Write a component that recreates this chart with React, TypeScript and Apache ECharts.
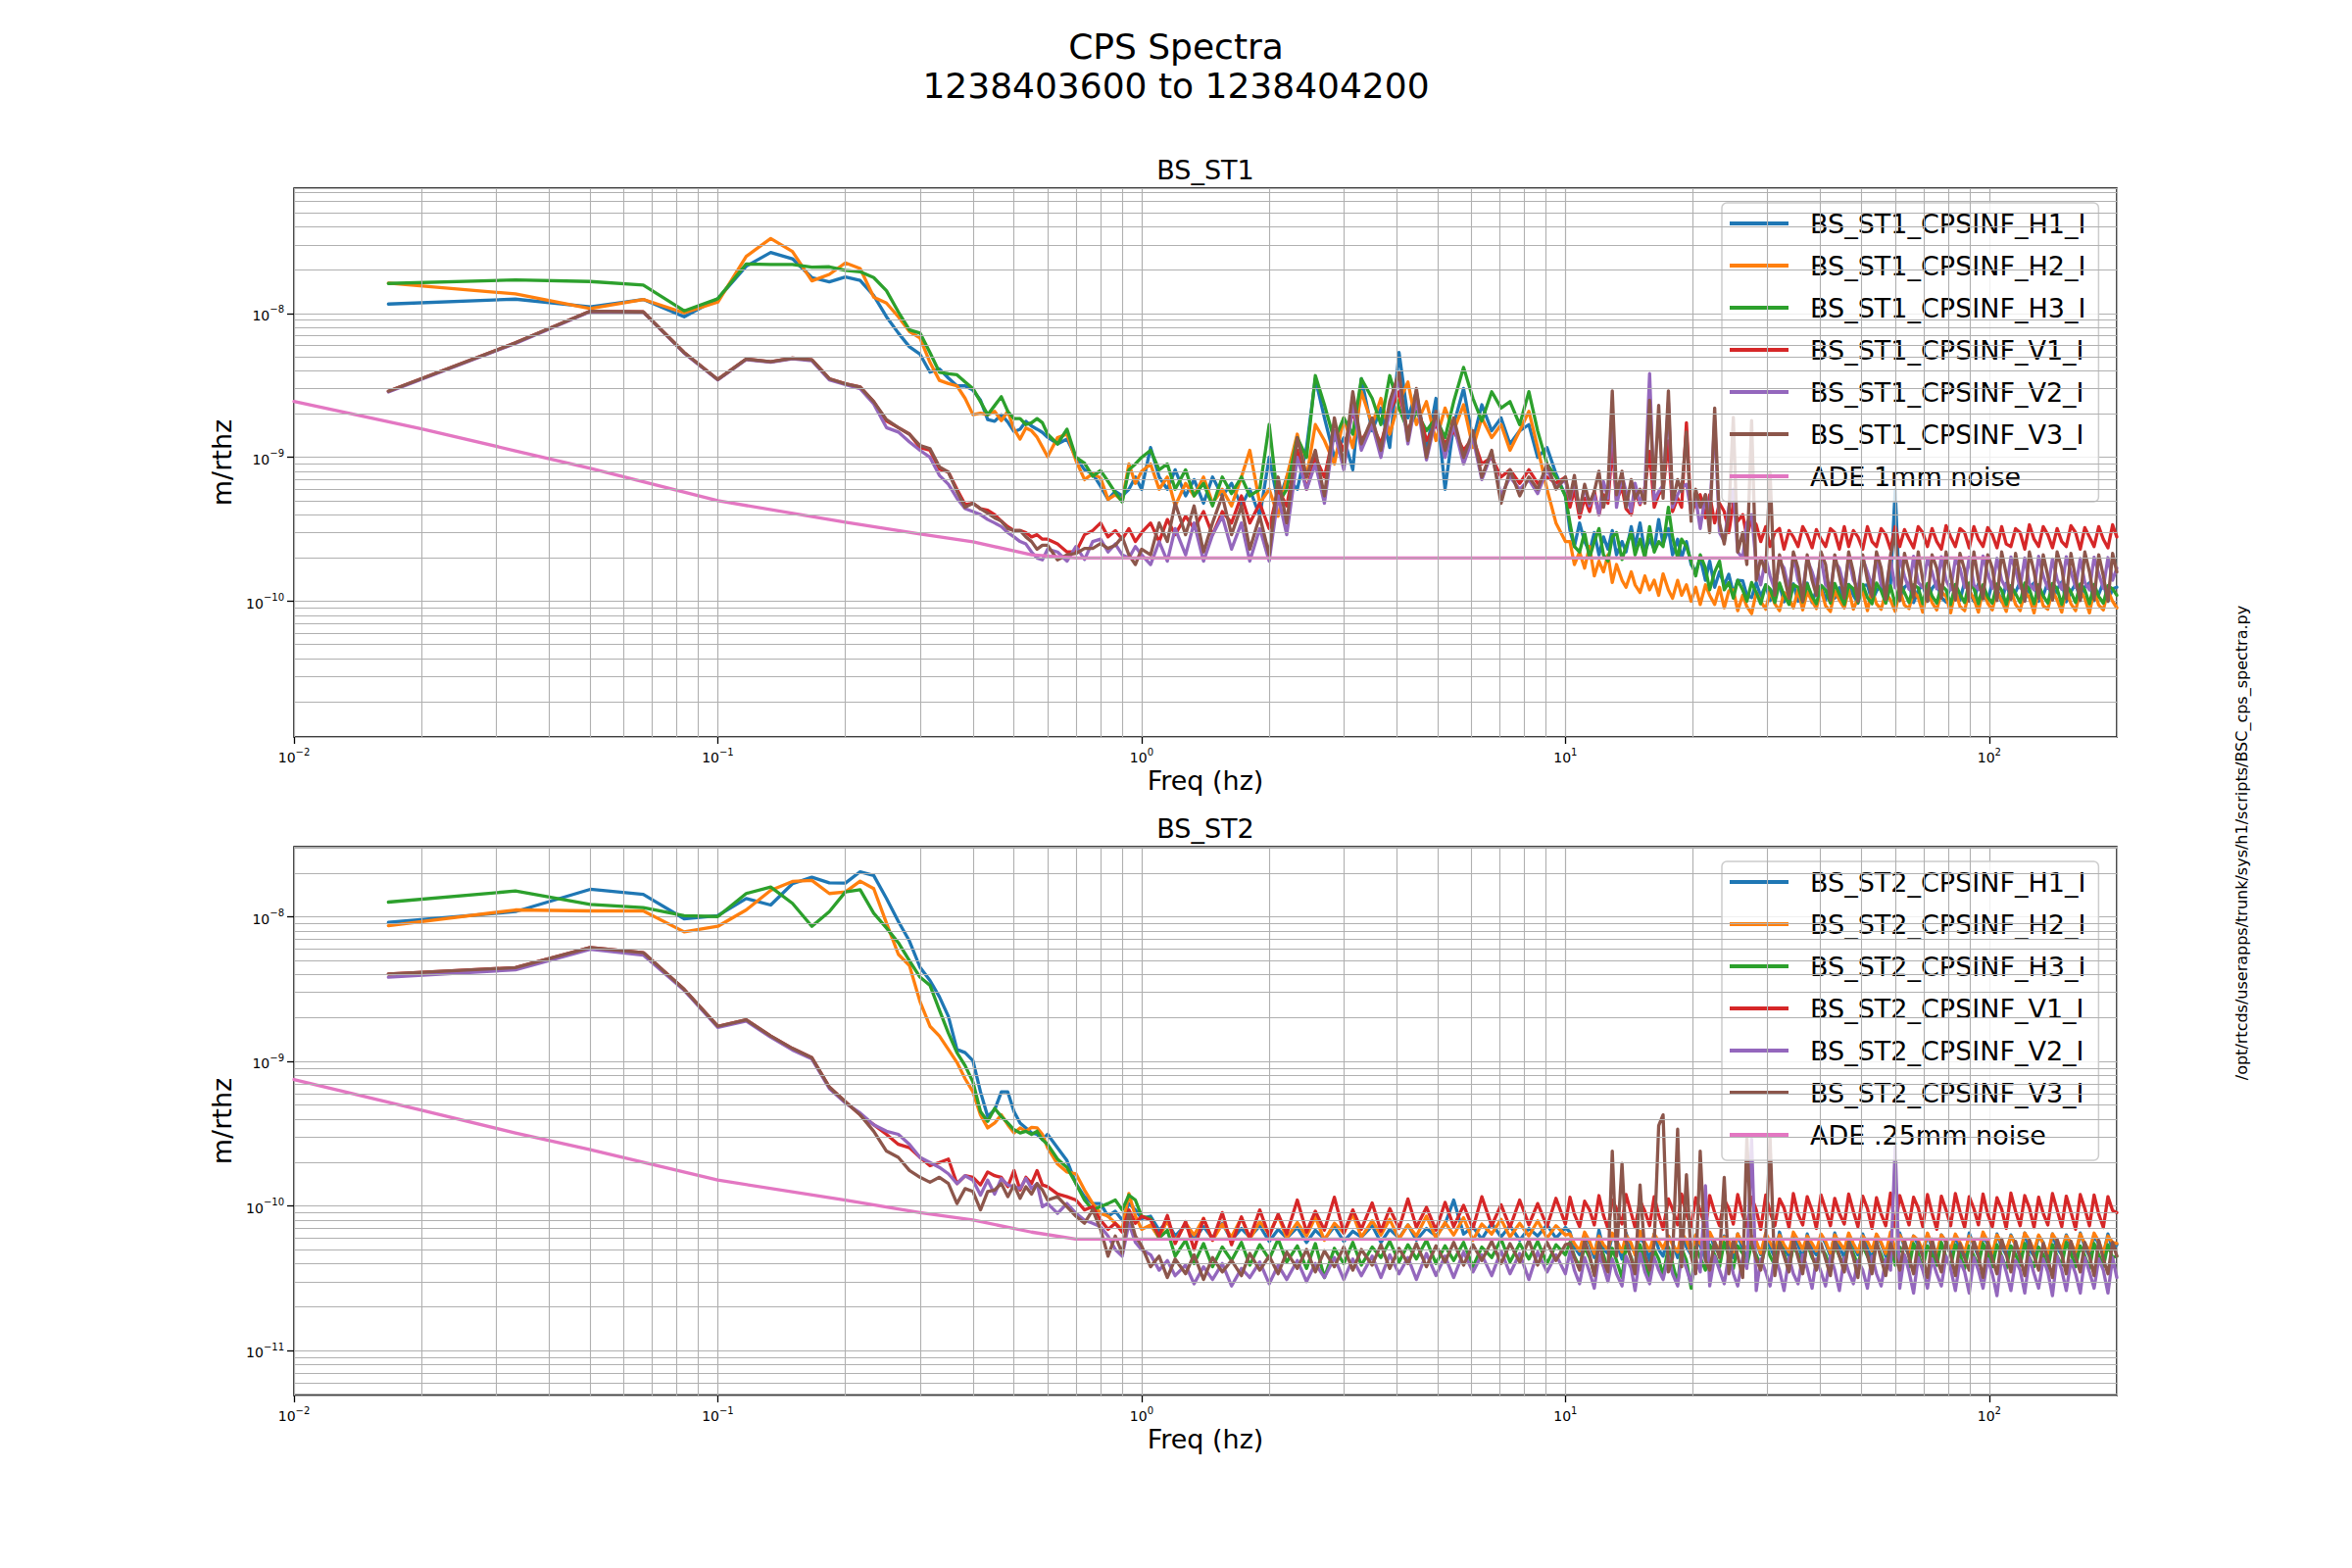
import React, { useEffect, useRef } from "react";
import * as echarts from "echarts";

// Amplitudes are stored in units of 1e-11 m/rtHz (UNIT_EXP); the axis labels show the real powers of ten.
const UNIT_EXP = -11;

const FREQ = [
  0.0167, 0.0333, 0.05, 0.0667, 0.0833, 0.1, 0.1167, 0.1333, 0.15, 0.1667, 0.1833, 0.2, 0.2167, 0.2333, 0.25, 0.2667, 0.2833, 0.3,
  0.3167, 0.3333, 0.35, 0.3667, 0.3833, 0.4, 0.4167, 0.4333, 0.45, 0.4667, 0.4833, 0.5, 0.5167, 0.5333, 0.55, 0.5667, 0.5833, 0.6,
  0.6333, 0.6667, 0.7, 0.7333, 0.7667, 0.8, 0.8333, 0.8667, 0.9, 0.9333, 0.9667, 1.0,
  1.05, 1.1, 1.15, 1.2, 1.27, 1.33, 1.4, 1.47, 1.55, 1.63, 1.72, 1.8, 1.9, 2.0, 2.1, 2.2, 2.33, 2.45, 2.57, 2.7, 2.85, 3.0, 3.15,
  3.3, 3.5, 3.67, 3.85, 4.05, 4.25, 4.45, 4.7, 4.95, 5.2, 5.45, 5.75, 6.05, 6.35, 6.7, 7.05, 7.4, 7.8, 8.2, 8.6, 9.05, 9.5, 10.0,
  10.25, 10.5, 10.8, 11.1, 11.4, 11.7, 12.0, 12.3, 12.6, 12.9, 13.2, 13.6, 13.9, 14.3, 14.6, 15.0, 15.4, 15.8, 16.2, 16.6,
  17.0, 17.5, 17.9, 18.4, 18.8, 19.3, 19.8, 20.3, 20.8, 21.4, 21.9, 22.5, 23.1, 23.7, 24.3, 24.9, 25.5, 26.2, 26.8, 27.5,
  28.2, 28.9, 29.7, 30.4, 31.2, 32.0, 32.8, 33.7, 34.5, 35.4, 36.3, 37.2, 38.2, 39.1, 40.1, 41.1, 42.2, 43.2, 44.3, 45.5,
  46.6, 47.8, 49.0, 50.3, 51.6, 52.9, 54.2, 55.6, 57.0, 58.5, 60.0, 61.5, 63.1, 64.7, 66.3, 68.0, 69.7, 71.5, 73.3, 75.2,
  77.1, 79.1, 81.1, 83.2, 85.3, 87.5, 89.7, 92.0, 94.3, 96.7, 99.2, 101.7, 104.3, 107.0, 109.7, 112.5, 115.4, 118.3, 121.3, 124.4,
  127.6, 130.8, 134.1, 137.5, 141.0, 144.6, 148.3, 152.0, 155.9, 159.9, 164.0, 168.1, 172.4, 176.8, 181.3, 185.9, 190.6, 195.5, 200,
];

// ---------- BS_ST1 ----------
const ST1_H1 = [
  1163, 1258, 1110, 1252, 949, 1265, 2130, 2655, 2400, 1776, 1660, 1795, 1700, 1330, 949, 731, 587, 521, 391, 412, 356, 314, 314, 293, 250, 183, 178, 198, 176, 151, 157, 178, 165, 157, 149, 138,
  124, 134, 100, 82, 77, 63, 51, 58, 54, 60, 73, 60,
  117, 73, 60, 82, 54, 70, 48, 73, 54, 66, 46, 60, 39, 100, 48, 73, 60, 117, 352, 188, 100, 137, 82, 352, 153, 220, 117, 535, 188, 286, 112, 257, 60, 169, 301, 131, 232, 153, 188, 124, 153, 169, 100, 117, 77, 54,
  31, 24, 35, 26, 22, 30, 21, 28, 23, 31, 21, 26, 22, 33, 24, 35, 22, 27, 23, 37, 25, 32, 21, 27, 20, 26, 18, 16, 20, 14,
  19, 12.5, 16, 13, 15.4, 11.3, 14, 13.9, 11, 10.6, 13.5, 10.8, 13, 10.1, 12.6, 13, 9.9, 12.2, 13.2, 10, 11.5, 13.4, 9.8, 12, 12.8, 10.2, 13.3, 10.5, 12.4, 9.9,
  13.1, 11, 9.7, 12.9, 13, 10, 11.8, 12.9, 10.4, 13.2, 60,
  10.1, 12.5, 13.3, 9.8, 11.9, 13, 10, 12.3, 13.4, 10.6, 9.9, 13.1, 11.4, 10.2, 13.6, 12, 10, 13.2, 10.8, 10.1, 13.5, 12.2, 9.9, 13.3,
  10.5, 11.6, 13.6, 10.2, 12.4, 13.4, 10, 11, 13.5, 10.3, 12.1, 13.6, 9.9, 11.7, 13.2, 10.4, 12.6, 13.4, 10.1, 11.2, 13.5, 10, 12.2, 12.5,
];
const ST1_H2 = [
  1625, 1368, 1081, 1252, 1010, 1200, 2494, 3323, 2698, 1685, 1870, 2247, 2055, 1298, 1182, 949, 750, 676, 457, 343, 326, 314, 257, 198, 203, 198, 209, 180, 209, 157, 134, 160, 153, 138, 118, 101,
  137, 145, 95, 70, 77, 72, 51, 55, 50, 90, 66, 80,
  90, 60, 73, 46, 66, 54, 73, 48, 60, 46, 73, 112, 48, 60, 39, 73, 145, 73, 169, 131, 90, 188, 117, 286, 169, 257, 145, 244, 334, 169, 244, 131, 220, 153, 232, 117, 188, 137, 169, 112, 153, 209, 117, 60, 35, 26,
  26, 18, 22, 17, 24, 15, 19, 16, 21, 13.5, 18, 14, 12.5, 16, 13, 11.5, 15, 12, 14, 11, 15.5, 12, 10.5, 14, 11, 13, 10, 12.5, 9.5, 13,
  11, 9.5, 12.5, 9, 11.8, 12, 8.6, 11, 9.2, 8.2, 11.5, 10, 8.8, 11.8, 9.6, 8.6, 11.5, 10.4, 9, 12, 8.7, 11.6, 10, 8.9, 12.2, 9.3, 8.5, 11.8, 10.2, 9,
  12, 8.8, 10.5, 11.7, 8.6, 12.1, 9.6, 8.8, 11.5, 10.2, 8.5,
  12, 9.4, 8.9, 11.8, 10.6, 8.4, 12.2, 9.8, 8.7, 11.6, 10.8, 8.3, 12, 9.2, 8.6, 11.9, 10.4, 8.4, 12.3, 9.7, 8.7, 11.8, 10.1, 8.5,
  12, 9.5, 8.6, 11.7, 10.6, 8.3, 12.1, 9.3, 8.8, 11.9, 10.2, 8.4, 12.2, 9.6, 8.6, 11.8, 10.5, 8.3, 12, 9.4, 8.7, 11.9, 10, 9,
];
const ST1_H3 = [
  1617, 1711, 1668, 1575, 1043, 1265, 2210, 2188, 2188, 2100, 2110, 1991, 1950, 1776, 1441, 1026, 770, 731, 535, 391, 381, 375, 334, 301, 244, 198, 229, 264, 209, 186, 186, 169, 174, 186, 174, 145,
  124, 157, 100, 91, 74, 81, 68, 57, 49, 82, 90, 100,
  112, 82, 90, 60, 82, 54, 66, 46, 73, 56, 73, 54, 60, 169, 48, 60, 137, 100, 370, 232, 131, 188, 145, 352, 257, 169, 370, 220, 153, 209, 153, 188, 137, 244, 422, 257, 179, 286, 220, 244, 169, 286, 153, 90, 73, 54,
  35, 24, 22, 30, 20, 26, 32, 21, 19, 28, 30, 19.5, 24, 30, 21, 27, 20, 33, 22, 26, 24, 45, 28, 20, 27, 24, 19, 15, 21, 17,
  12, 16, 19, 12, 13.5, 10.5, 14, 12, 10, 13.5, 11.5, 9.6, 13, 12.2, 9.8, 13.4, 11, 9.5, 13, 12.5, 9.9, 13.2, 10.8, 9.6, 12.9, 12, 9.7, 13.3, 11.2, 9.5,
  13, 12.2, 9.8, 13.1, 10.6, 9.6, 13.4, 11.8, 9.7, 12.8, 9.5,
  13.2, 11.5, 9.8, 13, 12.4, 9.6, 13.3, 10.9, 9.7, 12.9, 12, 9.5, 13.1, 11.2, 9.8, 13.4, 12.3, 9.6, 13, 10.7, 9.7, 13.2, 11.9, 9.5,
  12.8, 11.3, 9.8, 13.4, 12.1, 9.6, 13, 10.9, 9.7, 13.3, 12.2, 9.5, 12.9, 11.6, 9.8, 13.2, 12, 9.6, 13.1, 10.8, 9.7, 12.8, 12.2, 11,
];
const ST1_V1 = [
  288, 625, 1037, 1026, 535, 348, 482, 462, 489, 476, 352, 325, 309, 244, 179, 161, 145, 117, 112, 83, 79, 60, 47, 48, 44, 43, 40, 36, 33, 31, 31, 30, 28, 29, 27, 27,
  25, 22, 22, 29, 31, 35, 28, 31, 27, 32, 26, 30,
  35, 26, 37, 29, 39, 32, 42, 29, 42, 35, 54, 35, 48, 32, 60, 46, 112, 60, 100, 73, 153, 112, 209, 131, 169, 124, 209, 286, 145, 244, 131, 169, 124, 153, 112, 137, 90, 100, 73, 82, 66, 82, 66, 73, 66, 73,
  45, 60, 38, 52, 42, 58, 40, 55, 48, 120, 50, 62, 44, 40, 57, 47, 62, 110, 45, 55, 60, 130, 42, 52, 45, 174, 40, 50, 55, 38,
  55, 35, 48, 42, 30, 48, 36, 40, 28, 38, 34, 26, 33, 24, 30, 32, 23, 31, 28, 24, 33, 29, 23.5, 31.5, 27, 24, 32, 30, 23, 33,
  24, 31, 28, 23, 33, 26, 24, 32, 29, 23, 33,
  24, 31.5, 27, 23.5, 33, 30, 24, 32, 26, 23, 33.5, 28, 24, 32, 30, 23.5, 33, 27, 24, 32.5, 29, 23.5, 33, 25,
  24, 32, 30, 23, 34, 27, 24, 33, 29, 23.5, 32, 26, 24, 33.5, 30, 23, 32.5, 28, 24, 33, 27, 23.5, 34, 28,
];
const ST1_V2 = [
  285, 620, 1030, 1020, 530, 345, 478, 458, 485, 470, 345, 320, 300, 235, 161, 150, 128, 112, 100, 75, 65, 52, 44, 42, 40, 37, 35, 33, 30, 28, 26, 25, 22, 20, 19.4, 23,
  22, 19, 24, 19.5, 26, 27, 22, 25, 21, 20, 24, 21,
  18, 26, 19, 32, 21, 35, 19, 29, 39, 23, 35, 19, 32, 19, 54, 29, 100, 60, 90, 48, 153, 82, 232, 112, 169, 100, 209, 352, 124, 257, 96, 188, 100, 169, 90, 137, 70, 107, 54, 73, 60, 70, 56, 82, 62, 70,
  50, 70, 42, 62, 46, 55, 40, 68, 52, 200, 45, 75, 58, 42, 66, 48, 60, 382, 50, 58, 64, 240, 45, 55, 62, 65, 42, 52, 32, 55,
  40, 180, 30, 26, 45, 60, 22, 20, 35, 40, 18, 13, 20, 15, 12, 19, 17, 12, 20.5, 14, 12, 19.5, 16, 12.8, 20, 13, 12, 19, 17, 12.5,
  20, 14, 12.2, 19.8, 16, 12.6, 20.5, 13, 12, 19.5, 12.4,
  20, 15, 12.1, 20.5, 13.5, 12.5, 19.8, 16, 12.2, 20.4, 14, 12, 19.6, 17, 12.5, 20.2, 13, 12.1, 20.6, 15.5, 12.3, 19.9, 14, 12.2,
  20.3, 16.5, 12.4, 20, 13.2, 12, 20.5, 15, 12.3, 19.7, 14.2, 12.1, 20.4, 16, 12.5, 19.8, 13.5, 12, 20.2, 15.5, 12.3, 20.1, 14, 17,
];
const ST1_V3 = [
  288, 625, 1037, 1026, 535, 348, 482, 462, 489, 476, 352, 325, 309, 244, 183, 161, 145, 121, 115, 86, 79, 58, 45, 48, 44, 41, 38, 36, 32, 31, 31, 28, 26, 23, 24.5, 24.5,
  19.4, 21, 21.5, 23.3, 23.3, 25.2, 23.3, 24.5, 28, 21, 18, 23,
  21, 35, 26, 48, 29, 46, 22, 35, 54, 29, 46, 23, 39, 21, 73, 35, 137, 73, 112, 54, 188, 90, 286, 124, 188, 112, 244, 391, 131, 301, 100, 209, 112, 188, 100, 153, 73, 112, 48, 82, 54, 73, 60, 90, 60, 73,
  52, 75, 42, 65, 48, 58, 80, 45, 62, 290, 55, 80, 45, 70, 52, 60, 48, 250, 60, 230, 52, 290, 48, 70, 58, 150, 36, 60, 45, 55,
  30, 220, 35, 25, 40, 190, 22, 30, 18, 180, 14, 20, 16, 79, 11, 21, 15, 10.5, 22, 17, 10, 21, 14, 11, 22, 18, 10.2, 21, 15, 10.5,
  22, 16, 10, 21, 14, 10.8, 22, 17, 10.3, 21, 30,
  10.1, 21.5, 16, 10.6, 22, 14, 10, 21, 17, 10.5, 22, 15, 10.2, 21.5, 16.5, 10, 22, 14, 10.4, 21, 17, 10.1, 22, 15.5,
  10.3, 21.5, 14, 10, 22, 16, 10.5, 21, 15, 10.2, 22, 17, 10.4, 21.5, 14.5, 10.1, 22, 16, 10.3, 21, 15, 10, 21.5, 16,
];

// ---------- BS_ST2 ----------
const ST2_H1 = [
  915, 1087, 1550, 1430, 970, 1020, 1340, 1207, 1695, 1880, 1720, 1710, 2050, 1931, 1340, 930, 680, 448, 363, 280, 205, 121, 115, 101, 61.6, 41.6, 46.2, 61.6, 61.6, 45, 37.5, 34.7, 32, 31.3, 28.8, 31.3,
  25.3, 20.6, 14.3, 11.6, 10.4, 10.4, 8.5, 9.2, 8, 10.4, 9.4, 8.2,
  8.5, 6.8, 7.8, 6.2, 7.4, 5.9, 7.2, 6, 7.6, 5.8, 7, 6.1, 7.3, 5.7, 6.9, 6, 7.1, 5.6, 6.8, 5.9, 7.2, 5.7, 6.7, 6.1, 7.3, 5.6, 6.9, 6, 7.4, 5.8, 7, 6.2, 7.5, 11, 6.4, 7.2, 5.9, 7.6, 6.1, 7.3, 5.8, 7, 6.2, 7.4, 6, 7.1,
  6.6, 5.2, 4.6, 6.3, 5.5, 4.4, 6.8, 5, 4.7, 6.2, 5.6, 4.3, 6.5, 5.1, 4.8, 6.1, 5.4, 4.2, 6.4, 5, 4.5, 6.2, 5.6, 4.4, 6.6, 5.2, 4.6, 6.3, 5.3, 4.3,
  6.5, 5.1, 4.7, 6.2, 5.5, 4.4, 6.4, 5, 4.5, 6.1, 5.6, 4.6, 6.3, 5.2, 4.4, 6.6, 5.1, 4.5, 6.2, 5.4, 4.3, 6.4, 5, 4.6, 6.3, 5.5, 4.5, 6.5, 5.2, 4.4,
  6.2, 5.3, 4.6, 6.4, 5.1, 4.3, 6.3, 5.5, 4.5, 6.1, 4.4,
  6.5, 5.2, 4.6, 6.2, 5.4, 4.5, 6.4, 5.1, 4.3, 6.3, 5.6, 4.6, 6.2, 5, 4.4, 6.5, 5.3, 4.5, 6.1, 5.5, 4.3, 6.4, 5.2, 4.6,
  6.3, 5.4, 4.4, 6.5, 5, 4.5, 6.2, 5.6, 4.3, 6.4, 5.1, 4.6, 6.3, 5.3, 4.4, 6.5, 5.2, 4.5, 6.2, 5.5, 4.6, 6.4, 5, 5.4,
];
const ST2_H2 = [
  869, 1116, 1099, 1099, 787, 860, 1116, 1527, 1757, 1785, 1450, 1487, 1765, 1567, 906, 551, 460, 259, 175, 150, 121, 98.5, 75.9, 61.6, 42.7, 34.7, 37.5, 42.7, 36.5, 32, 34.7, 32.9, 35, 34.7, 31.3, 25.3,
  19.5, 17.2, 16.7, 12.9, 10.4, 8.9, 8.5, 7.6, 6.9, 12.2, 8.5, 6.9,
  7.4, 6, 8, 5.7, 7.6, 6.3, 8.2, 5.8, 7.5, 6.1, 8.3, 5.9, 7.8, 6.4, 8.6, 6, 7.7, 6.2, 8.4, 5.8, 7.6, 6.5, 8.8, 6.1, 7.9, 6.3, 8.1, 5.9, 7.4, 6.2, 8.5, 6, 7.7, 6.3, 8.3, 5.8, 7.5, 6.4, 8.1, 6.1, 7.6, 6.2, 7.9, 6, 7.3, 6.3,
  6.4, 5.5, 4.9, 6.6, 5.7, 4.7, 6.2, 5.4, 5, 6.5, 5.8, 4.8, 6.3, 5.5, 4.6, 6.7, 5.6, 4.9, 6.4, 5.7, 5.1, 6.2, 5.4, 4.8, 6.5, 5.8, 4.7, 6.3, 5.5, 5,
  6.6, 5.6, 4.9, 6.1, 5.8, 4.8, 6.4, 5.5, 5, 6.2, 5.7, 4.7, 6.5, 5.6, 4.9, 6.3, 5.4, 4.8, 6.6, 5.8, 5, 6.2, 5.5, 4.9, 6.4, 5.7, 4.7, 6.3, 5.6, 5,
  6.5, 5.5, 4.8, 6.2, 5.7, 4.9, 6.4, 5.6, 4.7, 6.6, 5,
  6.3, 5.5, 4.8, 6.2, 5.8, 4.9, 6.5, 5.4, 4.7, 6.3, 5.7, 5, 6.4, 5.6, 4.8, 6.2, 5.5, 4.9, 6.6, 5.7, 4.7, 6.3, 5.6, 5,
  6.2, 5.4, 4.8, 6.5, 5.8, 4.9, 6.3, 5.5, 4.7, 6.4, 5.7, 5, 6.2, 5.6, 4.8, 6.4, 5.5, 4.9, 6.5, 5.7, 4.7, 6.2, 5.6, 5.5,
];
const ST2_H3 = [
  1265, 1510, 1220, 1158, 1020, 1005, 1450, 1608, 1240, 860, 1087, 1487, 1540, 1058, 838, 662, 497, 383, 336, 227, 157, 115, 93.5, 72, 45, 38.5, 47.3, 41.6, 37.5, 33.7, 32, 32.9, 31.3, 32.9, 28.8, 26.7,
  21.1, 18.5, 14.3, 11, 9.4, 9.9, 10.4, 11, 9.4, 11.9, 11, 8.5,
  8.2, 6, 6.8, 4.5, 5.8, 4, 5.5, 3.8, 5.2, 4.2, 5.6, 3.9, 5.4, 4.3, 5.9, 4.1, 5.3, 3.7, 5.5, 3.2, 5.1, 4, 5.6, 3.9, 5.2, 4.4, 5.7, 4.1, 5.4, 4.3, 5.8, 4, 5.3, 4.2, 5.6, 3.8, 5.2, 4.4, 5.9, 4.1, 5.5, 4.3, 5.7, 4, 5.4, 4.6,
  5.6, 4.5, 3.8, 5.2, 4.4, 3.4, 5.5, 4.6, 3.6, 5.1, 4.2, 3.2, 5.3, 4.4, 3.5, 5.4, 4.1, 3.1, 5, 4.3, 3.3, 5.2, 4, 2.9, 5.1, 4.2, 2.7, 5.2, 4.4, 3.6,
  5.4, 4.6, 3.8, 5.6, 4.5, 3.7, 5.3, 4.7, 3.9, 5.5, 4.6, 3.8, 5.4, 4.5, 3.9, 5.6, 4.7, 3.7, 5.3, 4.6, 3.8, 5.5, 4.4, 3.9, 5.2, 4.6, 3.7, 5.4, 4.5, 3.8,
  5.6, 4.7, 3.9, 5.3, 4.5, 3.8, 5.5, 4.6, 3.7, 5.4, 3.9,
  5.2, 4.5, 3.8, 5.5, 4.7, 3.7, 5.3, 4.6, 3.9, 5.6, 4.4, 3.8, 5.4, 4.6, 3.7, 5.3, 4.5, 3.9, 5.5, 4.7, 3.8, 5.4, 4.5, 3.7,
  5.3, 4.6, 3.9, 5.5, 4.4, 3.8, 5.2, 4.6, 3.7, 5.4, 4.5, 3.9, 5.6, 4.7, 3.8, 5.3, 4.5, 3.7, 5.5, 4.6, 3.8, 5.4, 4.4, 4.5,
];
const ST2_V1 = [
  403, 445, 613, 566, 315, 175, 194, 150, 123, 106, 66.5, 52.6, 42.7, 36.5, 31.3, 26.7, 25.3, 21.7, 19, 20, 21.1, 14.3, 16.2, 15.8, 14, 17.2, 16.2, 15.8, 13.6, 17.6, 12.9, 15.8, 14.3, 17.6, 14, 13.6,
  12.1, 11.6, 11, 9.4, 9.9, 8, 6.9, 7.6, 6.6, 9.4, 7.6, 8.5,
  8, 6.2, 8.6, 5.5, 7.8, 5, 8.2, 5.8, 9, 5.4, 8.4, 6, 9.4, 6.2, 8.8, 6.4, 11, 6.6, 9.2, 6.8, 11.5, 6.5, 9.4, 6.9, 10.5, 6.7, 9.6, 7, 11.2, 7.1, 9.8, 6.8, 10.6, 7.2, 10.1, 7, 11.6, 7.3, 10.2, 7.1, 11, 7.4, 10.4, 7.2, 11.3, 7.5,
  11.5, 8.8, 7.2, 10.8, 9.4, 7.4, 11.8, 8.6, 7, 11, 9.6, 7.5, 12, 8.9, 7.1, 10.9, 9.2, 7.3, 11.6, 8.7, 6.9, 11.2, 9.5, 7.4, 12.1, 8.8, 7.2, 11.4, 9.3, 7,
  11.8, 9, 7.3, 11.1, 9.6, 7.5, 12, 8.7, 7.2, 11.5, 9.4, 6.9, 11.9, 9.1, 7.3, 11.2, 9.7, 7.1, 12.2, 8.8, 7.4, 11.6, 9.3, 7, 11.9, 9.5, 7.3, 11.3, 8.9, 7.5,
  12.1, 9.2, 7.2, 11.7, 9.6, 7, 11.4, 8.8, 7.3, 12.3, 7.1,
  11.8, 9.3, 7.4, 11.5, 9.7, 7.2, 12, 8.9, 6.9, 11.7, 9.4, 7.3, 12.2, 9.1, 7.1, 11.6, 9.6, 7.4, 12.1, 8.8, 7.2, 11.4, 9.5, 7,
  12.3, 9.2, 7.3, 11.8, 9.7, 7.1, 11.5, 8.9, 7.4, 12.2, 9.4, 7.2, 11.7, 9.1, 6.9, 12, 9.6, 7.3, 11.9, 8.8, 7.1, 11.6, 9.3, 9,
];
const ST2_V2 = [
  383, 430, 597, 544, 310, 172, 190, 147, 120, 104, 65, 51.5, 44, 36.5, 32.9, 31.3, 26.7, 21.7, 20, 18.5, 16.7, 14.3, 16.2, 15.1, 11.9, 15.1, 12.1, 15.5, 14, 13.6, 13.2, 15.5, 13.2, 14.3, 9.9, 10.4,
  8.9, 10.4, 8.9, 8, 7.6, 7.2, 6.2, 5, 4.5, 7.6, 5.6, 5,
  4.6, 3.6, 4.2, 3.3, 3.9, 2.9, 3.8, 3.1, 4, 2.8, 3.7, 3.2, 4.1, 2.9, 3.9, 3.1, 4.2, 3, 4, 3.2, 4.4, 3.1, 4.3, 3.3, 4.5, 3.2, 4.6, 3.4, 4.4, 3.1, 4.7, 3.3, 4.5, 3.2, 4.8, 3.5, 4.6, 3.3, 4.9, 3.4, 4.7, 3.1, 4.8, 3.5, 4.6, 3.4,
  4.8, 3.6, 2.9, 4.4, 3.5, 2.7, 4.6, 3.8, 3, 4.3, 3.4, 2.8, 4.5, 3.7, 2.6, 4.7, 3.5, 2.9, 4.4, 3.6, 3.1, 4.5, 3.4, 2.8, 4.6, 3.7, 2.9, 4.3, 3.5, 13.8,
  2.8, 4.5, 3.6, 2.9, 4.6, 3.4, 2.8, 4.4, 3.7, 29, 2.6, 4.3, 3.5, 2.8, 4.5, 3.6, 2.6, 4.4, 3.4, 2.9, 4.6, 3.7, 2.7, 4.3, 3.5, 2.8, 4.5, 3.6, 2.6, 4.4,
  3.5, 2.9, 4.2, 3.6, 2.7, 4.5, 3.4, 2.8, 4.3, 3.6, 26,
  2.7, 4.6, 3.5, 2.5, 4.4, 3.6, 2.7, 4.3, 3.4, 2.8, 4.5, 3.7, 2.6, 4.2, 3.5, 2.5, 4.4, 3.6, 2.7, 4.3, 3.4, 2.4, 4.5, 3.5,
  2.6, 4.2, 3.6, 2.5, 4.4, 3.4, 2.7, 4.3, 3.5, 2.4, 4.5, 3.6, 2.6, 4.2, 3.4, 2.5, 4.4, 3.5, 2.7, 4.3, 3.6, 2.5, 4.4, 3.2,
];
const ST2_V3 = [
  403, 445, 613, 566, 315, 175, 194, 150, 123, 106, 66.5, 52.6, 42.7, 32.9, 24, 21.7, 17.6, 15.8, 14.6, 15.8, 14.3, 10.4, 13.2, 12.6, 9.4, 12.6, 12.9, 14.3, 11.6, 14, 11.3, 13.6, 12.1, 14.3, 12.9, 11,
  11.6, 9.9, 8.5, 7.6, 9.4, 6.9, 4.5, 6.2, 4.7, 9, 6.2, 5.3,
  3.8, 4.5, 3.2, 4.3, 3.4, 4.6, 3.1, 4.4, 3.5, 4.2, 3.3, 4.7, 3.6, 4.5, 3.4, 4.8, 3.7, 5, 3.5, 4.9, 3.8, 5.2, 3.6, 5, 3.9, 5.4, 3.7, 5.1, 4, 5.5, 3.8, 5.3, 4.1, 5.6, 3.9, 5.4, 4.2, 5.7, 4, 5.5, 4.1, 5.8, 3.9, 5.6, 4.2, 5.4,
  5.5, 4.4, 3.6, 5.8, 4.6, 3.3, 5.6, 4.2, 3.5, 24, 4.5, 19.7, 5.7, 4.3, 3.4, 14, 4.6, 3.6, 5.5, 36, 42.7, 3.5, 4.4, 34, 3.8, 16.5, 4.5, 3.4, 24, 4.2,
  3.6, 5.7, 4.4, 15.8, 3.4, 5.9, 4.5, 3.2, 29.6, 5.5, 4.3, 3.6, 5.8, 29.6, 3.3, 5.6, 4.5, 3.5, 5.9, 4.4, 3.4, 5.7, 4.6, 3.6, 5.5, 4.3, 3.3, 5.8, 4.5, 3.5,
  5.6, 4.4, 3.2, 5.9, 4.6, 3.4, 5.7, 4.3, 3.3, 5.5, 4.5,
  3.6, 5.8, 4.4, 3.4, 5.6, 4.5, 3.2, 5.9, 4.3, 3.5, 5.7, 4.6, 3.3, 5.5, 4.4, 3.6, 5.8, 4.5, 3.2, 5.6, 4.3, 3.4, 5.9, 4.6,
  3.5, 5.7, 4.4, 3.3, 5.8, 4.5, 3.6, 5.5, 4.3, 3.2, 5.9, 4.6, 3.4, 5.7, 4.4, 3.5, 5.6, 4.5, 3.3, 5.8, 4.3, 3.4, 5.6, 4.5,
];

// ADE noise references
const ADE_FREQ = [0.01, 0.02, 0.0333, 0.05, 0.1, 0.2, 0.3, 0.4, 0.55, 0.7, 100];
const ADE_1MM = [245, 158, 111, 84, 50, 35.4, 29.4, 25.9, 21, 20, 20];
const ADE_025MM = [75, 46, 32, 24.5, 15.1, 11, 9, 8, 6.6, 5.9, 5.9];

const ST1_NAMES = ["BS_ST1_CPSINF_H1_I", "BS_ST1_CPSINF_H2_I", "BS_ST1_CPSINF_H3_I", "BS_ST1_CPSINF_V1_I", "BS_ST1_CPSINF_V2_I", "BS_ST1_CPSINF_V3_I"];
const ST2_NAMES = ["BS_ST2_CPSINF_H1_I", "BS_ST2_CPSINF_H2_I", "BS_ST2_CPSINF_H3_I", "BS_ST2_CPSINF_V1_I", "BS_ST2_CPSINF_V2_I", "BS_ST2_CPSINF_V3_I"];

const SUPTITLE = ["CPS Spectra", "1238403600 to 1238404200"];
const SCRIPT_PATH = "/opt/rtcds/userapps/trunk/sys/h1/scripts/BSC_cps_spectra.py";
const MINOR_MULTIPLES = [2, 3, 4, 5, 6, 7, 8, 9];

const COLORS = ["#1f77b4", "#ff7f0e", "#2ca02c", "#d62728", "#9467bd", "#8c564b", "#e377c2"];
const FONT = "DejaVu Sans";

const PANELS = [
  { title: "BS_ST1", names: ST1_NAMES, values: [ST1_H1, ST1_H2, ST1_H3, ST1_V1, ST1_V2, ST1_V3], adeName: "ADE 1mm noise", ade: ADE_1MM, yMin: 1.14, yMax: 7430, top: 192 },
  { title: "BS_ST2", names: ST2_NAMES, values: [ST2_H1, ST2_H2, ST2_H3, ST2_V1, ST2_V2, ST2_V3], adeName: "ADE .25mm noise", ade: ADE_025MM, yMin: 0.489, yMax: 3055, top: 864 },
];

const X_MIN = 0.01;
const X_MAX = 200;
const GRID_LEFT = 300;
const GRID_WIDTH = 1860;
const GRID_HEIGHT = 560;
const LINE_WIDTH = 3.3;

function pair(xs: number[], ys: number[]) {
  return xs.map((x, i) => [x, ys[i]]);
}

function powLabel(e: number) {
  const n = Math.round(e);
  return `{b|10}{s|${n < 0 ? "\u2212" : ""}${Math.abs(n)}}`;
}

function minorValues(min: number, max: number) {
  const out: number[] = [];
  for (let e = Math.floor(Math.log10(min)); e <= Math.ceil(Math.log10(max)); e++) {
    for (const m of MINOR_MULTIPLES) {
      const v = parseFloat((m * Math.pow(10, e)).toPrecision(6));
      if (v > min * 1.001 && v < max * 0.999) out.push(v);
    }
  }
  return out;
}

const RICH = {
  b: { fontSize: 14, lineHeight: 18, fontFamily: FONT, color: "#000", verticalAlign: "bottom" },
  s: { fontSize: 10, lineHeight: 10, fontFamily: FONT, color: "#000", verticalAlign: "top" },
};

function buildOption() {
  const grid = PANELS.map((p) => ({
    left: GRID_LEFT,
    top: p.top,
    width: GRID_WIDTH,
    height: GRID_HEIGHT,
    show: true,
    borderColor: "#000",
    borderWidth: 1.5,
    backgroundColor: "transparent",
    containLabel: false,
  }));

  const xAxis = PANELS.map((p, i) => ({
    type: "log",
    logBase: 10,
    gridIndex: i,
    min: X_MIN,
    max: X_MAX,
    name: "Freq (hz)",
    nameLocation: "middle",
    nameGap: 31,
    nameTextStyle: { fontSize: 27, color: "#000", fontFamily: FONT },
    axisLine: { show: false },
    axisTick: { show: true, inside: false, length: 7, lineStyle: { color: "#000", width: 1.3 } },
    axisLabel: {
      show: true,
      margin: 10,
      showMinLabel: true,
      showMaxLabel: false,
      formatter: (v: number) => powLabel(Math.log10(v)),
      rich: RICH,
    },
    splitLine: { show: true, lineStyle: { color: "#b0b0b0", width: 1.2 } },
    minorTick: { show: false },
    minorSplitLine: { show: false },
  }));

  const yAxis = PANELS.map((p, i) => ({
    type: "log",
    logBase: 10,
    gridIndex: i,
    min: p.yMin,
    max: p.yMax,
    name: "m/rthz",
    nameLocation: "middle",
    nameRotate: 90,
    nameGap: 50,
    nameTextStyle: { fontSize: 27, color: "#000", fontFamily: FONT },
    axisLine: { show: false },
    axisTick: { show: true, inside: false, length: 7, lineStyle: { color: "#000", width: 1.3 } },
    axisLabel: {
      show: true,
      margin: 10,
      showMinLabel: false,
      showMaxLabel: false,
      formatter: (v: number) => powLabel(Math.log10(v) + UNIT_EXP),
      rich: RICH,
    },
    splitLine: { show: true, lineStyle: { color: "#b0b0b0", width: 1.2 } },
    minorTick: { show: false },
    minorSplitLine: { show: false },
  }));

  const series: any[] = [];
  PANELS.forEach((p, i) => {
    // minor grid lines, placed through the axes' own log scales
    const xs = minorValues(X_MIN, X_MAX);
    const ys = minorValues(p.yMin, p.yMax);
    series.push({
      type: "line",
      xAxisIndex: i,
      yAxisIndex: i,
      data: [[1, 10]],
      symbol: "none",
      showSymbol: false,
      lineStyle: { opacity: 0, width: 0 },
      silent: true,
      z: 1,
      markLine: {
        silent: true,
        symbol: ["none", "none"],
        label: { show: false },
        emphasis: { disabled: true },
        lineStyle: { color: "#b0b0b0", width: 1.1, type: "solid" },
        data: [...xs.map((v) => ({ xAxis: v })), ...ys.map((v) => ({ yAxis: v }))],
      },
    });
    p.values.forEach((vals, k) => {
      series.push({
        type: "line",
        name: p.names[k],
        xAxisIndex: i,
        yAxisIndex: i,
        data: pair(FREQ, vals),
        symbol: "none",
        showSymbol: false,
        color: COLORS[k],
        itemStyle: { color: COLORS[k] },
        lineStyle: { width: LINE_WIDTH, color: COLORS[k], join: "round", cap: "round" },
        silent: true,
        z: 2,
        emphasis: { disabled: true },
      });
    });
    series.push({
      type: "line",
      name: p.adeName,
      xAxisIndex: i,
      yAxisIndex: i,
      data: pair(ADE_FREQ, p.ade),
      symbol: "none",
      showSymbol: false,
      color: COLORS[6],
      itemStyle: { color: COLORS[6] },
      lineStyle: { width: LINE_WIDTH, color: COLORS[6], join: "round", cap: "round" },
      silent: true,
      z: 2,
      emphasis: { disabled: true },
    });
  });

  const legend = PANELS.map((p) => ({
    orient: "vertical",
    left: 1757,
    top: p.top + 15,
    data: [...p.names, p.adeName],
    icon: "rect",
    itemWidth: 60,
    itemHeight: 4,
    itemGap: 13,
    padding: [6, 13, 11, 8],
    backgroundColor: "rgba(255,255,255,0.8)",
    borderColor: "#cccccc",
    borderWidth: 1.5,
    borderRadius: 5,
    selectedMode: false,
    itemStyle: { borderWidth: 0 },
    textStyle: { fontSize: 27, lineHeight: 30, color: "#000", fontFamily: FONT, padding: [0, 0, 0, 17] },
  }));

  const textEl = (text: string, x: number, y: number, size: number, rotation = 0) => ({
    type: "text",
    x,
    y,
    rotation,
    silent: true,
    style: {
      text,
      fontSize: size,
      fontFamily: FONT,
      fill: "#000",
      align: "center",
      verticalAlign: "middle",
      textAlign: "center",
      textVerticalAlign: "middle",
    },
  });

  const graphic = [
    textEl(SUPTITLE[0], 1200, 47, 36),
    textEl(SUPTITLE[1], 1200, 87, 36),
    ...PANELS.map((p) => textEl(p.title, GRID_LEFT + GRID_WIDTH / 2, p.top - 19, 27)),
    textEl(SCRIPT_PATH, 2287, 860, 16, Math.PI / 2),
  ];

  return {
    animation: false,
    backgroundColor: "#ffffff",
    textStyle: { fontFamily: FONT },
    grid,
    xAxis,
    yAxis,
    legend,
    series,
    graphic,
  };
}

export default function App() {
  const ref = useRef<HTMLDivElement | null>(null);
  useEffect(() => {
    document.body.style.margin = "0";
    if (!ref.current) return;
    const chart = echarts.init(ref.current, undefined, { renderer: "svg" });
    chart.setOption(buildOption() as any);
    return () => {
      chart.dispose();
    };
  }, []);
  return <div ref={ref} style={{ width: 2400, height: 1600 }} />;
}
